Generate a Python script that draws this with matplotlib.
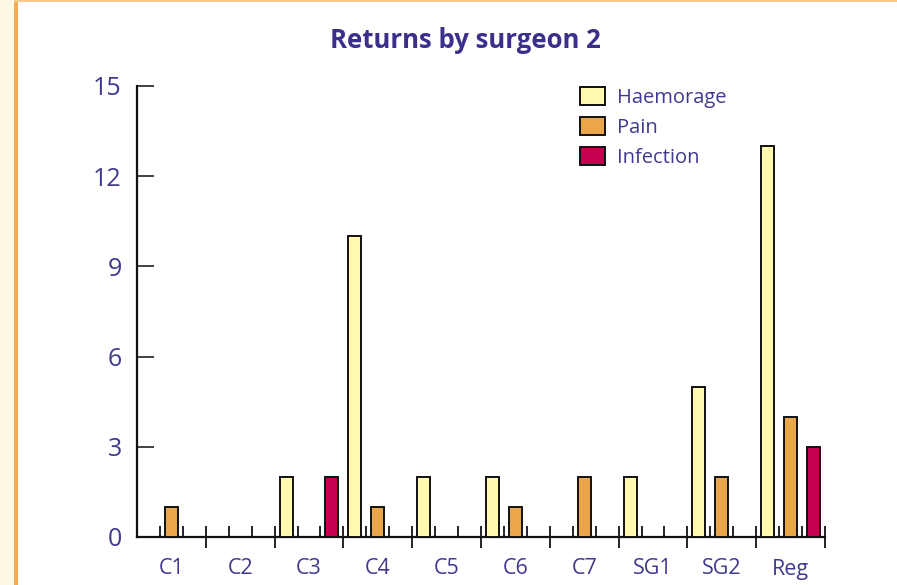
import matplotlib
matplotlib.use("Agg")
import matplotlib.pyplot as plt
import numpy as np
from matplotlib.patches import Rectangle, Patch
from matplotlib.ticker import FixedLocator

categories = ["C1", "C2", "C3", "C4", "C5", "C6", "C7", "SG1", "SG2", "Reg"]
haemorage = [0, 0, 2, 10, 2, 2, 0, 2, 5, 13]
pain = [1, 0, 0, 1, 0, 1, 2, 0, 2, 4]
infection = [0, 0, 2, 0, 0, 0, 0, 0, 0, 3]
series_names = ["Haemorage", "Pain", "Infection"]
colors = ["#FFFAAE", "#EBA64A", "#C6004F"]
yticks = [0, 3, 6, 9, 12, 15]

TXT = "#3F3A90"
FONT = ["Open Sans", "DejaVu Sans"]

W, H = 897, 585
fig = plt.figure(figsize=(W / 100, H / 100), dpi=100)
fig.patch.set_facecolor("white")

# decorative frame: cream strip at left, orange rules
fig.add_artist(Rectangle((0, 0), 14 / W, 1, transform=fig.transFigure,
                         facecolor="#FFF8E4", edgecolor="none", zorder=0))
fig.add_artist(Rectangle((14 / W, 0), 4 / W, 1, transform=fig.transFigure,
                         facecolor="#F4AE52", edgecolor="none", zorder=1))
fig.add_artist(Rectangle((14 / W, 1 - 2 / H), 1, 2 / H, transform=fig.transFigure,
                         facecolor="#F8CB8A", edgecolor="none", zorder=1))

x0, x1 = 137, 825
y0, y1 = 537, 86
ax = fig.add_axes([x0 / W, 1 - y0 / H, (x1 - x0) / W, (y0 - y1) / H])
ax.set_facecolor("none")

n = len(categories)
idx = np.arange(n)
bw = 0.19
for j, (vals, c, name) in enumerate(zip([haemorage, pain, infection], colors, series_names)):
    xs = idx + (j + 0.5) / 3
    v = np.array(vals, dtype=float)
    mask = v > 0
    ax.bar(xs[mask], v[mask], width=bw, color=c, edgecolor="#111111",
           linewidth=1.4, zorder=3)

ax.set_xlim(0, n)
ax.set_ylim(0, 15)

for s in ["top", "right"]:
    ax.spines[s].set_visible(False)
for s in ["left", "bottom"]:
    ax.spines[s].set_linewidth(1.6)
    ax.spines[s].set_color("#111111")

ax.set_yticks(yticks)
ax.set_yticklabels([str(t) for t in yticks])
ax.tick_params(axis="y", direction="in", length=12, width=1.3, color="#333333",
               labelsize=18, labelcolor=TXT, pad=11)

ax.xaxis.set_major_locator(FixedLocator(list(range(1, n + 1))))
ax.xaxis.set_minor_locator(FixedLocator([i + k / 3 for i in range(n) for k in (1, 2)]))
ax.set_xticklabels([])
ax.tick_params(axis="x", which="major", direction="inout", length=16, width=1.3,
               color="#111111")
ax.tick_params(axis="x", which="minor", direction="in", length=8, width=1.3,
               color="#111111")

for lab in ax.get_yticklabels():
    lab.set_family(FONT)

for i, cat in enumerate(categories):
    ax.text(i + 0.5, -32 / (y0 - y1), cat, transform=ax.get_xaxis_transform(),
            ha="center", va="center", fontsize=15.5, color=TXT, family=FONT)

fig.text(465 / W, 1 - 41 / H, "Returns by surgeon 2", ha="center", va="center",
         fontsize=18.5, fontweight="bold", color="#3A2F8A", family=FONT)

handles = [Patch(facecolor=c, edgecolor="#111111", linewidth=1.4) for c in colors]
leg = fig.legend(handles, series_names, loc="upper left",
                 bbox_to_anchor=(566 / W, 1 - 73 / H), frameon=False,
                 handlelength=1.25, handleheight=1.0,
                 handletextpad=0.6, labelspacing=0.45, borderpad=0.2,
                 prop={"family": FONT, "size": 14.5})
for t in leg.get_texts():
    t.set_color(TXT)

fig.savefig("out.png", dpi=100, facecolor="white")
